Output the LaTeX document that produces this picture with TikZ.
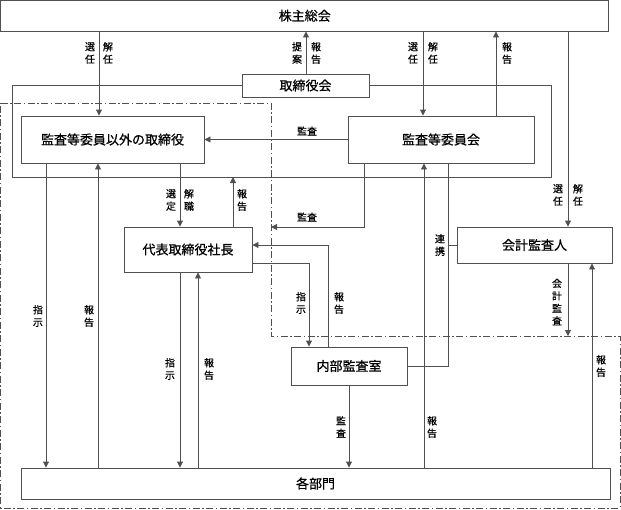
\documentclass[tikz,border=0pt]{standalone}
\usepackage{fontspec}
\newfontfamily\cjk[FakeBold=0.6]{Noto Sans CJK JP}
\usetikzlibrary{arrows.meta}
\definecolor{ln}{HTML}{505050}
\tikzset{
  box/.style={draw=ln, line width=0.9pt, fill=white, inner sep=0pt, font=\cjk\fontsize{13}{15}\selectfont},
  conn/.style={draw=ln, line width=0.9pt},
  arr/.style={conn, -{Triangle[length=6pt,width=6pt]}},
  lbl/.style={font=\cjk\fontsize{10}{12.5}\selectfont, align=center, inner sep=0pt},
  dashframe/.style={draw=ln, line width=0.8pt, dash pattern=on 7pt off 2.5pt on 1.5pt off 2.5pt}
}
\begin{document}
\begin{tikzpicture}[x=1pt,y=-1pt]
\useasboundingbox (0,0) rectangle (621,509);
% dash-dot frame
\draw[dashframe] (0.8,103) -- (271,103) -- (271,336) -- (620,336) -- (620,508) -- (0.8,508) -- cycle;
% boxes
\node[box, minimum width=608pt, minimum height=30.5pt] (top) at (304.75,15.75) {株主総会};
\node[box, minimum width=127pt, minimum height=23pt] (tb) at (305.5,85.5) {取締役会};
\draw[conn] (tb.west) -- (12,85.5) |- (551,177) -- (551,85.5) -- (tb.east);
\node[box, minimum width=183pt, minimum height=47pt] (od) at (112.5,139.5) {監査等委員以外の取締役};
\node[box, minimum width=186pt, minimum height=47pt] (ac) at (441,139.5) {監査等委員会};
\node[box, minimum width=128pt, minimum height=45pt] (ceo) at (188,249.5) {代表取締役社長};
\node[box, minimum width=155pt, minimum height=36pt] (aa) at (534.5,245) {会計監査人};
\node[box, minimum width=116pt, minimum height=38pt] (ia) at (349,366) {内部監査室};
\node[box, minimum width=589pt, minimum height=31pt] (dep) at (315.5,483.5) {各部門};
\coordinate (fb) at (233,177);
\coordinate (dl) at (271,227);
\coordinate (aend) at (568,336);
% top level
\draw[arr] (top.south -| 99,0) -- (od.north -| 99,0);
\node[lbl] (l1) at (90,53) {選\\任};
\node[lbl] (l2) at (108,53) {解\\任};
\draw[arr] (tb.north -| 306,0) -- (top.south -| 306,0);
\node[lbl] (l3) at (297,53) {提\\案};
\node[lbl] (l4) at (316,53) {報\\告};
\draw[arr] (top.south -| 423,0) -- (ac.north -| 423,0);
\node[lbl] (l5) at (413,53) {選\\任};
\node[lbl] (l6) at (433,53) {解\\任};
\draw[arr] (ac.north -| 496,0) -- (top.south -| 496,0);
\node[lbl] (l7) at (507,53) {報\\告};
\draw[arr] (top.south -| 568,0) -- (aa.north -| 568,0);
\node[lbl] (l8) at (558,195) {選\\任};
\node[lbl] (l9) at (578,195) {解\\任};
% 監査 to other directors
\draw[arr] (ac.west) -- (od.east);
\node[lbl] (l10) at (307,131) {監査};
% 選定 解職
\draw[arr] (od.south -| 180,0) -- (ceo.north -| 180,0);
\node[lbl] (l11) at (171,200) {選\\定};
\node[lbl] (l12) at (189,200) {解\\職};
\draw[arr] (ceo.north -| fb) -- (fb);
\node[lbl] (l13) at (242,200) {報\\告};
% 監査 to CEO area
\draw[arr] (ac.south -| 364,0) |- (dl);
\node[lbl] (l14) at (307,217) {監査};
% internal audit <-> CEO
\draw[arr] (ia.north -| 328,0) |- (ceo.east |- 0,245);
\node[lbl] (l15) at (339,303) {報\\告};
\draw[arr] (ceo.east |- 0,263) -| (ia.north -| 309,0);
\node[lbl] (l16) at (301,303) {指\\示};
% 連携
\draw[conn] (ia.east) -| (ac.south -| 448,0);
\draw[conn] (448,245) -- (aa.west);
\node[lbl] (l17) at (440,245) {連\\携};
% 会計監査
\draw[arr] (aa.south -| aend) -- (aend);
\node[lbl] (l18) at (557,302) {会\\計\\監\\査};
\draw[arr] (dep.north -| 592,0) -- (aa.south -| 592,0);
\node[lbl] (l19) at (601,366) {報\\告};
% to/from departments
\draw[arr] (dep.north -| 424,0) -- (ac.south -| 424,0);
\node[lbl] (l20) at (432,427) {報\\告};
\draw[arr] (ia.south) -- (dep.north -| ia.south);
\node[lbl] (l21) at (341,427) {監\\査};
\draw[arr] (od.south -| 46,0) -- (dep.north -| 46,0);
\node[lbl] (l22) at (38,316) {指\\示};
\draw[arr] (dep.north -| 98,0) -- (od.south -| 98,0);
\node[lbl] (l23) at (89,316) {報\\告};
\draw[arr] (ceo.south -| 180,0) -- (dep.north -| 180,0);
\node[lbl] (l24) at (170,369) {指\\示};
\draw[arr] (dep.north -| 198,0) -- (ceo.south -| 198,0);
\node[lbl] (l25) at (209,369) {報\\告};
\end{tikzpicture}
\end{document}
